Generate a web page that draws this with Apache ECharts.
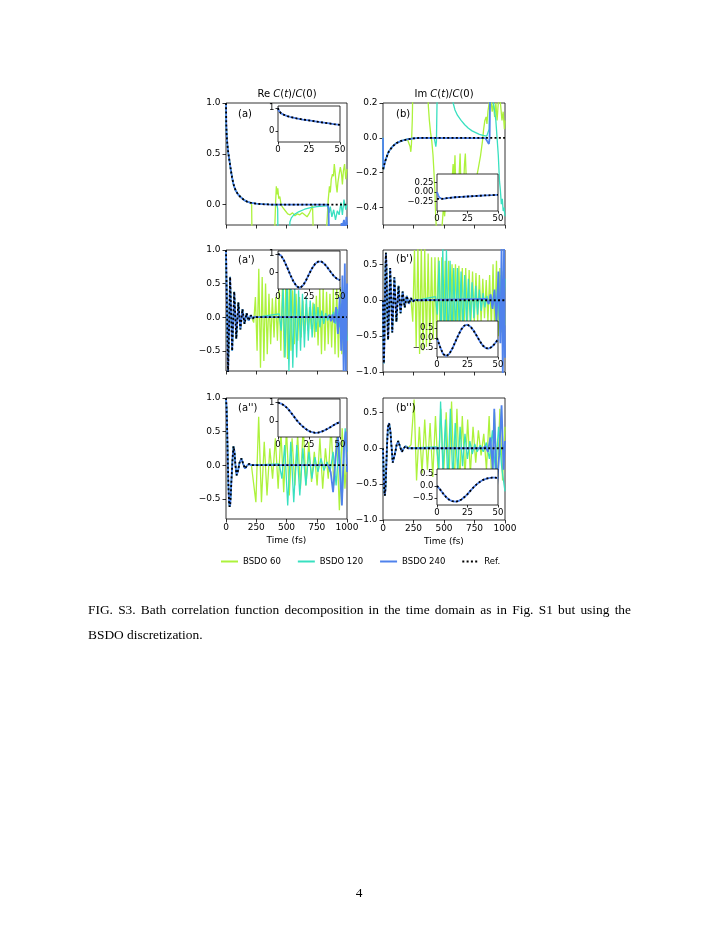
<!DOCTYPE html>
<html lang="en">
<head>
    <meta charset="utf-8">
    <script type="text/javascript" src="https://cdn.jsdelivr.net/npm/echarts@6.0.0/dist/echarts.min.js"></script>
</head>
<body style="margin: 0; background: #fff">
<div id="container" style="width:718px;height:929px"></div>

<script type="text/javascript">
    var timeTicks = [0, 250, 500, 750, 1000];
    var insetTicks = [0, 25, 50];
    var names = ['BSDO 60', 'BSDO 120', 'BSDO 240', 'Ref.'];

    // (a) Re C(t)/C(0), exponential kernel
    var refA = [[0,1.0],[2,0.8],[5,0.7],[10,0.61],[15,0.55],[20,0.5],[30,0.42],[40,0.34],[50,0.27],[60,0.21],[70,0.17],[80,0.14],[100,0.1],[125,0.07],[150,0.045],[175,0.03],[200,0.02],[250,0.01],[300,0.005],[350,0.002],[400,0],[1000,0]];
    var a60 = [[205,0.02],[212,0.0],[216,-0.5],[300,-0.7],[398,-0.5],[404,-0.2],[410,0.02],[416,0.18],[422,0.1],[428,0.16],[436,0.06],[445,0.08],[455,0.0],[470,-0.03],[490,-0.06],[510,-0.09],[530,-0.1],[550,-0.08],[570,-0.11],[590,-0.09],[610,-0.1],[630,-0.08],[650,-0.1],[670,-0.12],[690,-0.08],[705,-0.04],[715,0.0],[722,-0.3],[760,-0.5],[825,-0.4],[833,-0.2],[845,0.05],[855,0.18],[862,0.12],[870,0.25],[880,0.3],[888,0.28],[895,0.4],[902,0.32],[910,0.2],[918,0.12],[925,0.22],[935,0.3],[945,0.37],[955,0.3],[962,0.2],[970,0.33],[980,0.4],[990,0.25],[1000,0.35]];
    var a120 = [[420,0.0],[427,-0.04],[431,-0.5],[480,-0.6],[522,-0.5],[528,-0.17],[540,-0.13],[560,-0.1],[600,-0.07],[650,-0.045],[700,-0.03],[750,-0.02],[800,-0.015],[845,-0.01],[852,-0.08],[862,-0.02],[875,-0.12],[890,-0.05],[905,-0.15],[920,-0.06],[935,-0.1],[950,0.02],[962,-0.1],[975,0.05],[990,-0.05],[1000,0.0]];
    var a240 = [[840,0.0],[848,-0.05],[852,-0.5],[900,-0.6],[945,-0.5],[955,-0.18],[962,-0.22],[975,-0.15],[985,-0.3],[995,-0.12],[1000,-0.2]];
    var insetA = [[0,1.0],[0.5,0.9],[1,0.84],[2.5,0.77],[5,0.7],[7.5,0.65],[10,0.61],[15,0.55],[20,0.5],[25,0.46],[30,0.42],[35,0.38],[40,0.34],[45,0.3],[50,0.27]];

    // (b) Im C(t)/C(0)
    var headB = [[0,0.0],[2,-0.16]];
    var refB = [[0,-0.18],[4,-0.18],[10,-0.155],[20,-0.13],[30,-0.11],[40,-0.09],[50,-0.075],[60,-0.065],[80,-0.048],[110,-0.03],[150,-0.017],[200,-0.008],[250,-0.003],[300,0],[1000,0]];
    var b60 = [[215,-0.01],[222,-0.05],[228,-0.08],[233,-0.04],[240,0.1],[245,0.3],[300,0.5],[365,0.3],[372,0.18],[380,0.1],[390,0.03],[400,-0.02],[410,-0.1],[418,-0.2],[425,-0.3],[432,-0.45],[440,-0.55],[480,-0.55],[495,-0.4],[505,-0.45],[520,-0.3],[530,-0.35],[540,-0.25],[548,-0.4],[560,-0.3],[575,-0.15],[582,-0.25],[590,-0.1],[597,-0.3],[610,-0.35],[625,-0.2],[632,-0.09],[640,-0.3],[655,-0.38],[668,-0.15],[675,-0.09],[683,-0.25],[700,-0.4],[720,-0.35],[740,-0.3],[760,-0.25],[780,-0.18],[800,-0.1],[815,-0.02],[825,0.05],[835,0.1],[845,0.12],[852,0.08],[860,0.15],[870,0.2],[880,0.25],[895,0.15],[905,0.2],[915,0.12],[925,0.2],[935,0.1],[945,0.2],[955,0.25],[965,0.18],[975,0.1],[985,0.15],[995,0.05],[1000,0.1]];
    var b120 = [[420,-0.002],[428,-0.03],[433,-0.05],[438,-0.02],[445,0.3],[560,0.4],[575,0.2],[590,0.16],[610,0.13],[640,0.1],[670,0.075],[700,0.055],[730,0.04],[760,0.03],[790,0.02],[820,0.014],[850,0.01],[862,0.012],[870,0.05],[878,0.3],[895,0.3],[905,0.2],[915,0.15],[925,0.1],[935,0.0],[945,-0.1],[955,-0.25],[962,-0.3],[970,-0.38],[978,-0.35],[985,-0.42],[992,-0.4],[1000,-0.45]];
    var b240 = [[840,-0.002],[855,-0.02],[868,-0.035],[874,0.0],[880,0.4],[1000,0.6]];
    var insetB = [[0,0.0],[1,-0.09],[2,-0.15],[3,-0.175],[4,-0.18],[6,-0.175],[8,-0.165],[10,-0.155],[15,-0.14],[20,-0.13],[25,-0.12],[30,-0.11],[35,-0.1],[40,-0.09],[45,-0.085],[50,-0.075]];
    var insetBref = [[0,-0.18],[4,-0.18],[6,-0.175],[8,-0.165],[10,-0.155],[15,-0.14],[20,-0.13],[25,-0.12],[30,-0.11],[35,-0.1],[40,-0.09],[45,-0.085],[50,-0.075]];

    // (a') Re, underdamped
    var refAp = [[0,1.0],[17,-0.85],[34,0.6],[51,-0.5],[68,0.38],[85,-0.32],[102,0.22],[119,-0.18],[136,0.12],[153,-0.1],[170,0.06],[187,-0.05],[204,0.03],[221,-0.02],[238,0.01],[255,0],[1000,0]];
    var ap60 = [[215,0.03],[229,-0.08],[243,0.3],[257,-0.5],[271,0.72],[285,-0.75],[299,0.6],[313,-0.65],[327,0.5],[341,-0.55],[355,0.35],[369,-0.4],[383,0.28],[397,-0.3],[411,0.3],[425,-0.35],[439,0.4],[453,-0.5],[467,0.5],[481,-0.6],[495,0.55],[509,-0.62],[523,0.45],[537,-0.5],[551,0.4],[565,-0.4],[579,0.35],[593,-0.35],[607,0.3],[621,-0.3],[635,0.25],[649,-0.25],[663,0.2],[677,-0.2],[691,0.15],[705,-0.18],[719,0.22],[733,-0.3],[747,0.32],[761,-0.42],[775,0.42],[789,-0.55],[803,0.45],[817,-0.5],[831,0.38],[845,-0.4],[859,0.35],[873,-0.45],[887,0.42],[901,-0.55],[915,0.45],[929,-0.6],[943,0.45],[957,-0.55],[971,0.4],[985,-0.45],[999,0.35]];
    var ap120 = [[440,0.05],[456,-0.2],[472,0.45],[488,-0.6],[504,0.62],[520,-0.8],[536,0.55],[552,-0.75],[568,0.45],[584,-0.6],[600,0.4],[616,-0.5],[632,0.35],[648,-0.45],[664,0.3],[680,-0.35],[696,0.25],[712,-0.3],[728,0.2],[744,-0.22],[760,0.15],[776,-0.15],[792,0.1],[808,-0.1],[824,0.06],[840,-0.05],[856,0.04],[872,-0.05],[888,0.08],[904,-0.1],[920,0.12],[936,-0.15],[952,0.2],[968,-0.25],[984,0.3],[1000,-0.35]];
    var ap240 = [[840,0.0],[855,0.03],[868,-0.06],[880,0.04],[895,-0.08],[910,0.15],[925,-0.25],[940,0.3],[952,-0.5],[962,0.62],[972,-0.8],[982,0.8],[990,-0.8],[1000,0.5]];
    var insetAp = [[0,1.0],[2.5,0.9],[5,0.62],[7.5,0.25],[10,-0.15],[12.5,-0.5],[15,-0.75],[17.5,-0.85],[20,-0.72],[22.5,-0.45],[25,-0.1],[27.5,0.22],[30,0.46],[32.5,0.58],[35,0.58],[37.5,0.45],[40,0.25],[42.5,0.02],[45,-0.2],[47.5,-0.35],[50,-0.43]];

    // (b') Im, underdamped
    var refBp = [[0,0],[3,-0.5],[7,-0.88],[12,-0.55],[16,0.0],[20,0.45],[24,0.66],[28,0.5],[33,0.0],[38,-0.4],[42,-0.55],[50,-0.1],[59,0.45],[76,-0.45],[93,0.32],[110,-0.3],[127,0.2],[144,-0.18],[161,0.12],[178,-0.1],[195,0.06],[212,-0.05],[229,0.03],[246,-0.02],[263,0.01],[280,0],[1000,0]];
    var bp60 = [[230,0.05],[244,-0.3],[258,0.7],[272,-0.65],[286,0.75],[300,-0.75],[314,0.75],[328,-0.7],[342,0.72],[356,-0.65],[370,0.65],[384,-0.6],[398,0.6],[412,-0.55],[426,0.6],[440,-0.55],[454,0.6],[468,-0.55],[482,0.6],[496,-0.5],[510,0.55],[524,-0.5],[538,0.55],[552,-0.45],[566,0.5],[580,-0.45],[594,0.5],[608,-0.4],[622,0.48],[636,-0.4],[650,0.45],[664,-0.4],[678,0.45],[692,-0.35],[706,0.42],[720,-0.35],[734,0.4],[748,-0.32],[762,0.38],[776,-0.3],[790,0.35],[804,-0.3],[818,0.3],[832,-0.25],[846,0.28],[860,-0.3],[874,0.35],[888,-0.4],[902,0.5],[916,-0.5],[930,0.55],[944,-0.5],[958,0.45],[972,-0.45],[986,0.4],[1000,-0.35]];
    var bp120 = [[430,0.05],[445,-0.2],[460,0.55],[475,-0.6],[490,0.72],[505,-0.75],[520,0.7],[535,-0.7],[550,0.55],[565,-0.6],[580,0.45],[595,-0.5],[610,0.45],[625,-0.45],[640,0.4],[655,-0.42],[670,0.35],[685,-0.35],[700,0.3],[715,-0.3],[730,0.25],[745,-0.25],[760,0.2],[775,-0.2],[790,0.15],[805,-0.15],[820,0.1],[835,-0.1],[850,0.06],[865,-0.06],[880,0.08],[895,-0.1],[910,0.12],[925,-0.15],[940,0.2],[955,-0.3],[970,0.35],[985,-0.4],[1000,0.3]];
    var bp240 = [[850,0.02],[866,-0.05],[882,0.08],[898,-0.12],[914,0.15],[930,-0.3],[946,0.4],[962,-0.6],[972,0.75],[982,-1.05],[992,0.75],[1000,-0.8]];
    var insetBp = [[0,0],[2.5,-0.45],[5,-0.82],[7.5,-0.92],[10,-0.82],[12.5,-0.55],[15,-0.2],[17.5,0.15],[20,0.45],[22.5,0.64],[25,0.68],[27.5,0.58],[30,0.38],[32.5,0.12],[35,-0.15],[37.5,-0.38],[40,-0.52],[42.5,-0.54],[45,-0.45],[47.5,-0.28],[50,-0.07]];

    // (a'') Re, slower oscillation
    var refApp = [[0,1.0],[5,0.85],[10,0.5],[15,0.05],[20,-0.3],[25,-0.55],[30,-0.62],[35,-0.58],[40,-0.42],[45,-0.22],[50,-0.05],[55,0.12],[62,0.28],[70,0.2],[78,0.0],[88,-0.15],[100,-0.08],[112,0.04],[128,0.1],[142,0.02],[157,-0.05],[172,-0.01],[190,0.02],[210,0],[1000,0]];
    var app60 = [[220,0.0],[247,-0.55],[270,0.72],[293,-0.55],[316,0.35],[339,-0.45],[362,0.25],[385,-0.2],[408,0.4],[431,-0.35],[454,0.5],[477,-0.4],[500,0.55],[523,-0.45],[546,0.4],[569,-0.3],[592,0.45],[615,-0.35],[638,0.6],[661,-0.3],[684,0.35],[707,-0.25],[730,0.2],[753,-0.3],[776,0.4],[799,-0.35],[822,0.25],[845,-0.2],[868,0.6],[891,-0.3],[914,0.45],[937,-0.67],[960,0.55],[983,-0.35],[1000,0.2]];
    var app120 = [[440,0.02],[462,-0.2],[485,0.3],[510,-0.6],[535,0.35],[560,-0.55],[585,0.3],[610,-0.45],[635,0.25],[660,-0.3],[685,0.2],[710,-0.2],[735,0.12],[760,-0.1],[785,0.1],[810,-0.08],[835,0.05],[860,-0.1],[885,0.2],[910,-0.3],[935,0.35],[960,-0.5],[985,0.55],[1000,0.2]];
    var app240 = [[845,0.0],[865,-0.1],[885,-0.4],[905,0.1],[925,0.45],[945,-0.2],[958,-0.6],[975,0.3],[990,0.5],[1000,-0.1]];
    var insetApp = [[0,1.0],[2.5,0.95],[5,0.85],[7.5,0.7],[10,0.5],[12.5,0.28],[15,0.05],[17.5,-0.14],[20,-0.3],[22.5,-0.44],[25,-0.55],[27.5,-0.61],[30,-0.64],[32.5,-0.63],[35,-0.58],[37.5,-0.51],[40,-0.42],[42.5,-0.32],[45,-0.22],[47.5,-0.13],[50,-0.05]];

    // (b'') Im, slower oscillation
    var refBpp = [[0,0],[5,-0.32],[10,-0.58],[15,-0.66],[20,-0.57],[25,-0.35],[32,0.0],[40,0.29],[50,0.35],[60,0.25],[70,0.02],[80,-0.2],[90,-0.18],[100,-0.06],[112,0.05],[125,0.1],[140,0.02],[155,-0.05],[170,0.0],[185,0.03],[205,0],[1000,0]];
    var bpp60 = [[230,0.05],[255,0.68],[275,-0.45],[298,0.3],[320,-0.35],[342,0.4],[364,-0.3],[386,0.35],[408,-0.4],[430,0.45],[452,-0.35],[474,0.55],[496,-0.4],[518,0.5],[540,-0.5],[562,0.65],[584,-0.55],[606,0.55],[628,-0.5],[650,0.45],[672,-0.4],[694,0.4],[716,-0.35],[738,0.3],[760,-0.2],[782,0.25],[804,-0.1],[826,0.2],[848,-0.3],[870,0.45],[892,-0.5],[914,0.5],[936,-0.55],[958,0.55],[980,-0.45],[1000,0.3]];
    var bpp120 = [[440,0.02],[458,-0.3],[472,0.65],[492,-0.35],[512,0.4],[532,-0.5],[552,0.55],[572,-0.45],[592,0.35],[612,-0.35],[632,0.3],[652,-0.25],[672,0.2],[692,-0.15],[712,0.1],[732,-0.08],[752,0.06],[772,-0.05],[797,0.04],[822,-0.05],[847,0.08],[872,-0.15],[897,0.25],[922,-0.35],[947,0.3],[972,-0.25],[1000,-0.6]];
    var bpp240 = [[820,0.0],[840,0.03],[860,-0.05],[880,0.15],[900,-0.3],[912,0.55],[932,-0.6],[952,-0.1],[972,0.6],[988,-0.3],[1000,0.1]];
    var insetBpp = [[0,0],[2.5,-0.15],[5,-0.32],[7.5,-0.47],[10,-0.58],[12.5,-0.64],[15,-0.66],[17.5,-0.64],[20,-0.57],[22.5,-0.47],[25,-0.35],[27.5,-0.2],[30,-0.06],[32.5,0.06],[35,0.16],[37.5,0.24],[40,0.29],[42.5,0.32],[45,0.34],[47.5,0.34],[50,0.33]];

    var captionLine1 = 'FIG. S3. Bath correlation function decomposition in the time domain as in Fig. S1 but using the';
    var captionLine2 = 'BSDO discretization.';

    var colors = ['#adf23c', '#38e0c0', '#4f82ec', '#000'];

    // BSDO curve = (optional head) + reference up to where it breaks away + its own tail
    function branch(ref, tail, head) {
        head = head || [];
        var t0 = head.length ? head[head.length - 1][0] : -1;
        return head.concat(ref.filter(function (p) {
            return p[0] > t0 && p[0] < tail[0][0];
        })).concat(tail);
    }

    function fmt(dec) {
        return function (v) { return v.toFixed(dec).replace('-', '\u2212'); };
    }

    var grids = [], xAxes = [], yAxes = [], series = [];

    function addAxes(p, inset) {
        var gi = grids.length;
        var fs = inset ? 8.5 : 9;
        grids.push({
            left: p.left, top: p.top, width: p.w, height: p.h,
            show: true, borderColor: '#000', borderWidth: 0.8,
            backgroundColor: inset ? '#fff' : 'transparent',
            z: inset ? 10 : 0
        });
        xAxes.push({
            gridIndex: gi, type: 'value', min: 0, max: inset ? 50 : 1000, z: inset ? 11 : 1,
            position: 'bottom',
            splitLine: {show: false}, axisLine: {show: false, onZero: false},
            axisTick: {customValues: inset ? insetTicks : timeTicks, length: inset ? 2.5 : 3.5,
                lineStyle: {color: '#000', width: 0.8}},
            axisLabel: {show: inset || !!p.xl, customValues: inset ? insetTicks : timeTicks,
                margin: inset ? 3.5 : 4.5, formatter: fmt(0),
                fontFamily: 'DejaVu Sans', fontSize: fs, color: '#000'},
            name: p.xl ? 'Time (fs)' : '', nameLocation: 'middle', nameGap: 17,
            nameTextStyle: {fontFamily: 'DejaVu Sans', fontSize: 9, color: '#000'}
        });
        yAxes.push({
            gridIndex: gi, type: 'value', min: p.y[0], max: p.y[1], z: inset ? 11 : 1,
            position: 'left',
            splitLine: {show: false}, axisLine: {show: false, onZero: false},
            axisTick: {customValues: p.yt, length: inset ? 2.5 : 3.5,
                lineStyle: {color: '#000', width: 0.8}},
            axisLabel: {customValues: p.yt, margin: inset ? 3.5 : 5.5, formatter: fmt(p.yd),
                fontFamily: 'DejaVu Sans', fontSize: fs, color: '#000'}
        });
        return gi;
    }

    function line(gi, k, data, z) {
        return {
            name: names[k], type: 'line', xAxisIndex: gi, yAxisIndex: gi, data: data,
            symbol: 'none', z: z, clip: true, silent: true,
            lineStyle: {color: colors[k], width: k >= 2 ? 1.8 : 1.3,
                type: k === 3 ? [2, 2.3] : 'solid', cap: 'butt'},
            itemStyle: {color: colors[k]}
        };
    }

    var mains = [
        {left: 226, top: 103, w: 121, h: 122, y: [-0.2, 1.0], yt: [0, 0.5, 1.0], yd: 1, ref: refA, s: [a60, a120, a240]},
        {left: 383, top: 103, w: 122, h: 122, y: [-0.5, 0.2], yt: [-0.4, -0.2, 0, 0.2], yd: 1, head: headB, ref: refB, s: [b60, b120, b240]},
        {left: 226, top: 250, w: 121, h: 121, y: [-0.8, 1.0], yt: [-0.5, 0, 0.5, 1.0], yd: 1, ref: refAp, s: [ap60, ap120, ap240]},
        {left: 383, top: 250, w: 122, h: 122, y: [-1.0, 0.7], yt: [-1.0, -0.5, 0, 0.5], yd: 1, ref: refBp, s: [bp60, bp120, bp240]},
        {left: 226, top: 398, w: 121, h: 121, y: [-0.8, 1.0], yt: [-0.5, 0, 0.5, 1.0], yd: 1, xl: true, ref: refApp, s: [app60, app120, app240]},
        {left: 383, top: 398, w: 122, h: 122, y: [-1.0, 0.7], yt: [-1.0, -0.5, 0, 0.5], yd: 1, xl: true, ref: refBpp, s: [bpp60, bpp120, bpp240]}
    ];
    var insets = [
        {left: 278, top: 106, w: 62, h: 36, y: [-0.48, 1.09], yt: [0, 1], yd: 0, line: insetA},
        {left: 437, top: 174, w: 61, h: 37, y: [-0.5, 0.47], yt: [-0.25, 0, 0.25], yd: 2, line: insetB, ref: insetBref},
        {left: 278, top: 251, w: 62, h: 38, y: [-0.9, 1.15], yt: [0, 1], yd: 0, line: insetAp},
        {left: 437, top: 321, w: 61, h: 36, y: [-0.97, 0.87], yt: [-0.5, 0, 0.5], yd: 1, line: insetBp},
        {left: 278, top: 399, w: 62, h: 38, y: [-0.87, 1.2], yt: [0, 1], yd: 0, line: insetApp},
        {left: 437, top: 469, w: 61, h: 36, y: [-0.8, 0.7], yt: [-0.5, 0, 0.5], yd: 1, line: insetBpp}
    ];

    mains.forEach(function (p) {
        var gi = addAxes(p, false);
        for (var k = 0; k < 3; k++) {
            series.push(line(gi, k, branch(p.ref, p.s[k], p.head), 2));
        }
        series.push(line(gi, 3, p.ref, 3));
    });
    insets.forEach(function (p) {
        var gi = addAxes(p, true);
        series.push(line(gi, 2, p.line, 12));
        series.push(line(gi, 3, p.ref || p.line, 13));
    });

    function txt(x, y, text, size, extra) {
        var st = {text: text, x: x, y: y, fontFamily: 'DejaVu Sans', fontSize: size, fill: '#000',
            align: 'left', verticalAlign: 'middle', textAlign: 'left', textVerticalAlign: 'middle'};
        for (var key in extra) { st[key] = extra[key]; }
        return {type: 'text', z: 20, silent: true, style: st};
    }
    var italic = {i: {fontStyle: 'italic', fontFamily: 'DejaVu Sans', fontSize: 10}};
    var serif = {fontFamily: 'Liberation Serif'};

    var graphics = [
        txt(287, 94, 'Re {i|C}({i|t})/{i|C}(0)', 10, {align: 'center', textAlign: 'center', rich: italic}),
        txt(444, 94, 'Im {i|C}({i|t})/{i|C}(0)', 10, {align: 'center', textAlign: 'center', rich: italic}),
        txt(238, 114, '(a)', 10),
        txt(396, 114, '(b)', 10),
        txt(238, 260, "(a')", 10),
        txt(396, 259, "(b')", 10),
        txt(238, 408, "(a'')", 10),
        txt(396, 408, "(b'')", 10),
        txt(88, 635, captionLine2, 13.4, serif),
        txt(359, 893, '4', 13.4, {fontFamily: 'Liberation Serif', align: 'center', textAlign: 'center'})
    ];

    // first caption line is justified to the text width, like the typeset page
    var ctx = document.createElement('canvas').getContext('2d');
    ctx.font = '13.4px "Liberation Serif"';
    var words = captionLine1.split(' ');
    var wordW = words.map(function (w) { return ctx.measureText(w).width; });
    var total = wordW.reduce(function (s, w) { return s + w; }, 0);
    var gap = (543 - total) / (words.length - 1);
    var cx = 88;
    words.forEach(function (w, i) {
        graphics.push(txt(cx, 610, w, 13.4, serif));
        cx += wordW[i] + gap;
    });

    var dom = document.getElementById("container");
    var myChart = echarts.init(dom);
    var option = {
        animation: false,
        backgroundColor: '#fff',
        legend: {
            data: names, left: 220, top: 557, padding: 0, itemWidth: 17, itemHeight: 10, itemGap: 16,
            selectedMode: false, itemStyle: {opacity: 0},
            textStyle: {fontFamily: 'DejaVu Sans', fontSize: 8.5, color: '#000'}
        },
        grid: grids,
        xAxis: xAxes,
        yAxis: yAxes,
        series: series,
        graphic: graphics
    };
    myChart.setOption(option);
</script>
</body>
</html>
